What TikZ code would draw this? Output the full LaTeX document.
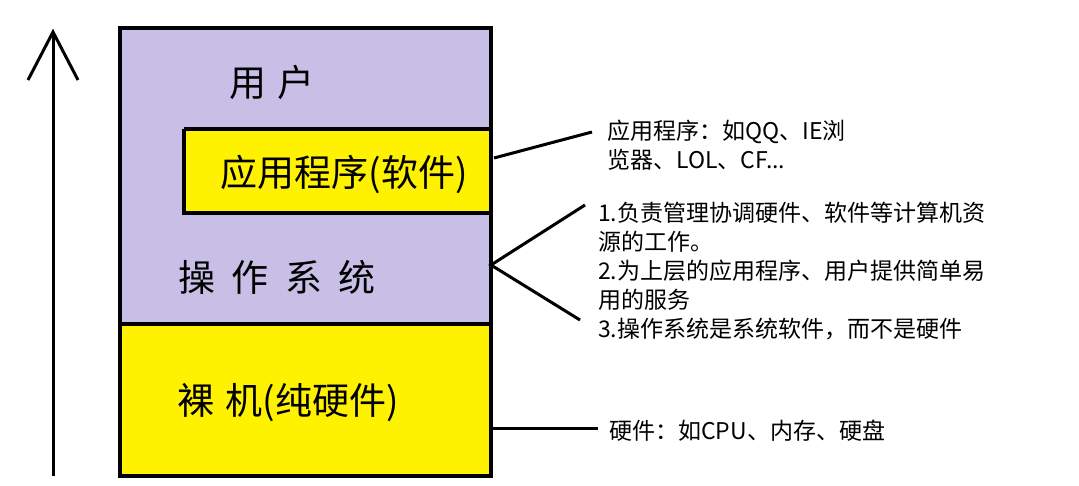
\documentclass[tikz,border=0pt]{standalone}
\usepackage{fontspec}
\setmainfont{Noto Sans CJK SC}
\definecolor{lav}{HTML}{C8BFE7}
\definecolor{yel}{HTML}{FFF200}
\begin{document}
\begin{tikzpicture}[x=1pt,y=-1pt,
  box/.style={draw=black,line width=4pt},
  big/.style={font=\fontsize{37}{40}\selectfont,inner sep=0},
  small/.style={font=\fontsize{23}{29}\selectfont,anchor=west,inner sep=0,align=left},
  ln/.style={line width=3pt}]
\useasboundingbox (0,0) rectangle (1079,486);
\fill[lav] (120,28) rectangle (491,324);
\fill[yel] (120,324) rectangle (491,476);
\fill[yel] (184,129) rectangle (491,213);
\draw[box] (184,129) -- (184,213) -- (491,213);
\draw[box] (184,129) -- (491,129);
\draw[box] (120,28) rectangle (491,476);
\draw[box] (120,324) -- (491,324);
\coordinate (a0) at (53,476); \coordinate (a1) at (53,32);
\coordinate (al) at (28,80); \coordinate (ar) at (78,80);
\draw[ln] (a0) -- (a1); \draw[ln,line join=miter] (al) -- (a1) -- (ar);
\node[big] (u) at (272,82) {用\hspace{0.3em}户};
\node[big] (app) at (344,174) {应用程序(软件)};
\node[big] (os) at (277,277) {操\hspace{0.45em}作\hspace{0.45em}系\hspace{0.45em}统};
\node[big] (hw) at (288,403) {裸\hspace{0.3em}机(纯硬件)};
\coordinate (c1) at (494,158); \coordinate (c1e) at (592,132);
\coordinate (c2) at (491,265); \coordinate (c2a) at (585,205); \coordinate (c2b) at (580,320);
\coordinate (c3) at (493,428); \coordinate (c3e) at (598,428);
\draw[ln] (c1) -- (c1e);
\draw[ln] (c2a) -- (c2) -- (c2b);
\draw[ln] (c3) -- (c3e);
\node[small] (t1) at (607,145) {应用程序：如QQ、IE浏\\览器、LOL、CF...};
\node[small] (t2) at (598,271) {1.负责管理协调硬件、软件等计算机资\\源的工作。\\2.为上层的应用程序、用户提供简单易\\用的服务\\3.操作系统是系统软件，而不是硬件};
\node[small] (t3) at (609,431) {硬件：如CPU、内存、硬盘};
\end{tikzpicture}
\end{document}
